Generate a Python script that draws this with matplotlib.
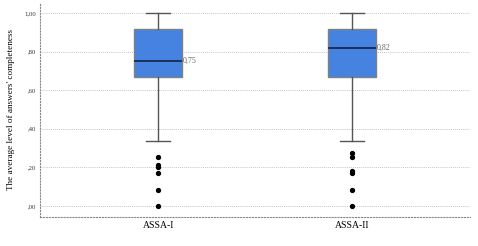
import numpy as np
import matplotlib
matplotlib.use('Agg')
import matplotlib.pyplot as plt

groups = ['ASSA-I', 'ASSA-II']
# box stats
q1 = [0.668, 0.668]
med = [0.75, 0.82]
q3 = [0.917, 0.917]
whislo = [0.335, 0.335]
whishi = [1.00, 1.00]
outliers = [[0.255, 0.21, 0.20, 0.171, 0.084, 0.0],
            [0.276, 0.255, 0.183, 0.171, 0.084, 0.0]]
med_labels = ['0,75', '0,82']
yticks = [0.0, 0.2, 0.4, 0.6, 0.8, 1.0]
ytick_labels = [',00', ',20', ',40', ',60', ',80', '1,00']

stats = []
for i, g in enumerate(groups):
    stats.append(dict(label=g, q1=q1[i], med=med[i], q3=q3[i],
                      whislo=whislo[i], whishi=whishi[i], fliers=outliers[i]))

plt.rcParams['font.family'] = ['Liberation Serif', 'DejaVu Serif']

fig = plt.figure(figsize=(4.78, 2.46), dpi=100)
ax = fig.add_axes([0.084, 0.118, 0.899, 0.87])

ax.bxp(stats, positions=[1, 2], widths=0.25, patch_artist=True,
       boxprops=dict(facecolor='#4683e0', edgecolor='#808080', linewidth=1.0),
       medianprops=dict(color='#1a2a50', linewidth=1.3),
       whiskerprops=dict(color='#555555', linewidth=1.0),
       capprops=dict(color='#555555', linewidth=1.0),
       capwidths=0.125,
       flierprops=dict(marker='o', markerfacecolor='black', markeredgecolor='black',
                       markersize=2.8, linestyle='none'))

for i, lab in enumerate(med_labels):
    ax.text(1 + i + 0.127, med[i], lab, fontsize=5.8, color='#666666',
            va='center', ha='left')

ax.set_xlim(0.39, 2.61)
ax.set_ylim(-0.057, 1.052)
ax.set_yticks(yticks)
ax.set_yticklabels(ytick_labels, fontsize=4.8, color='#333333')
ax.set_xticks([1, 2])
ax.set_xticklabels(groups, fontsize=7)
ax.tick_params(axis='both', length=0, pad=3)
ax.yaxis.grid(True, linestyle=(0, (1, 1.5)), color='#b0b0b0', linewidth=0.6)
ax.set_axisbelow(True)

for s in ['top', 'right']:
    ax.spines[s].set_visible(False)
for s in ['left', 'bottom']:
    ax.spines[s].set_linestyle(':')
    ax.spines[s].set_color('#888888')
    ax.spines[s].set_linewidth(0.8)

ax.set_ylabel("The average level of answers' completeness", fontsize=6.6, labelpad=7)

fig.savefig('out.png', dpi=100)
